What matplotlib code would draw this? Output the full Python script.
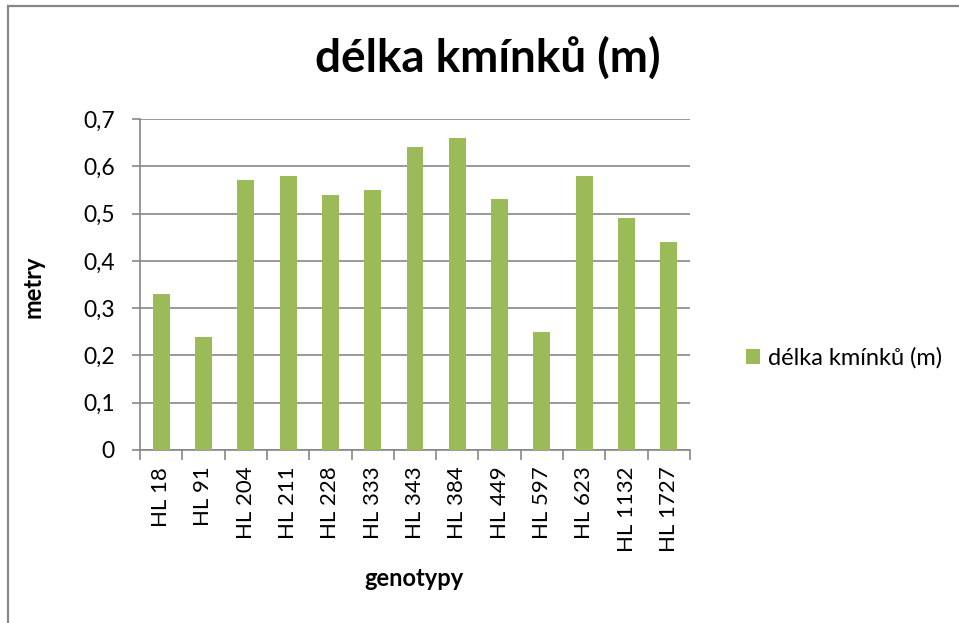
import matplotlib.pyplot as plt
from matplotlib.patches import Rectangle

plt.rcParams['font.family'] = ['Lato', 'DejaVu Sans']

# data
genotypes = ['HL 18', 'HL 91', 'HL 204', 'HL 211', 'HL 228', 'HL 333', 'HL 343',
             'HL 384', 'HL 449', 'HL 597', 'HL 623', 'HL 1132', 'HL 1727']
lengths = [0.33, 0.24, 0.57, 0.58, 0.54, 0.55, 0.64, 0.66, 0.53, 0.25, 0.58, 0.49, 0.44]
yticks = [0, 0.1, 0.2, 0.3, 0.4, 0.5, 0.6, 0.7]
ytick_labels = ['0', '0,1', '0,2', '0,3', '0,4', '0,5', '0,6', '0,7']

green = '#9BBB59'
grid_c = '#878787'

fig = plt.figure(figsize=(9.59, 6.23), dpi=100)
# outer chart border (right and bottom edges fall outside the image)
fig.patches.append(Rectangle((7.5 / 959, -0.1), 1.2, 1.1 - 6.5 / 623,
                             transform=fig.transFigure, fill=False,
                             edgecolor='#868686', linewidth=1.6))

ax = fig.add_axes([140 / 959, (623 - 450) / 623, 550 / 959, 331 / 623])
x = range(len(genotypes))
ax.bar(x, lengths, width=0.4, color=green, label='délka kmínků (m)', zorder=3)

ax.set_xlim(-0.5, len(genotypes) - 0.5)
ax.set_ylim(0, 0.7)
ax.set_yticks(yticks)
ax.set_yticklabels(ytick_labels, fontsize=16.5)
ax.yaxis.grid(True, color=grid_c, linewidth=1.2)
ax.set_axisbelow(True)

ax.set_xticks([i for i in x])
ax.set_xticklabels(genotypes, rotation=90, fontsize=16, va='top')
ax.tick_params(axis='x', length=0, pad=12)
ax.set_xticks([i - 0.5 for i in range(len(genotypes) + 1)], minor=True)
ax.tick_params(axis='x', which='minor', length=7, color=grid_c, width=1.2)
ax.tick_params(axis='y', length=6, color=grid_c, width=1.2, pad=12)

for s in ['top', 'right']:
    ax.spines[s].set_visible(False)
for s in ['left', 'bottom']:
    ax.spines[s].set_color(grid_c)
    ax.spines[s].set_linewidth(1.2)

fig.text(33 / 959, 1 - 287 / 623, 'metry', rotation=90, fontsize=17,
         fontweight='bold', ha='center', va='center')
fig.text(414 / 959, 1 - 578 / 623, 'genotypy', fontsize=17,
         fontweight='bold', ha='center', va='center')
fig.text(488 / 959, 1 - 58 / 623, 'délka kmínků (m)', fontsize=33,
         fontweight='bold', ha='center', va='center')

fig.legend(loc='center left', bbox_to_anchor=(725 / 959, 1 - 358 / 623),
           frameon=False, fontsize=17, handlelength=0.6, handleheight=0.6,
           handletextpad=0.3)

fig.savefig('out.png', dpi=100)
